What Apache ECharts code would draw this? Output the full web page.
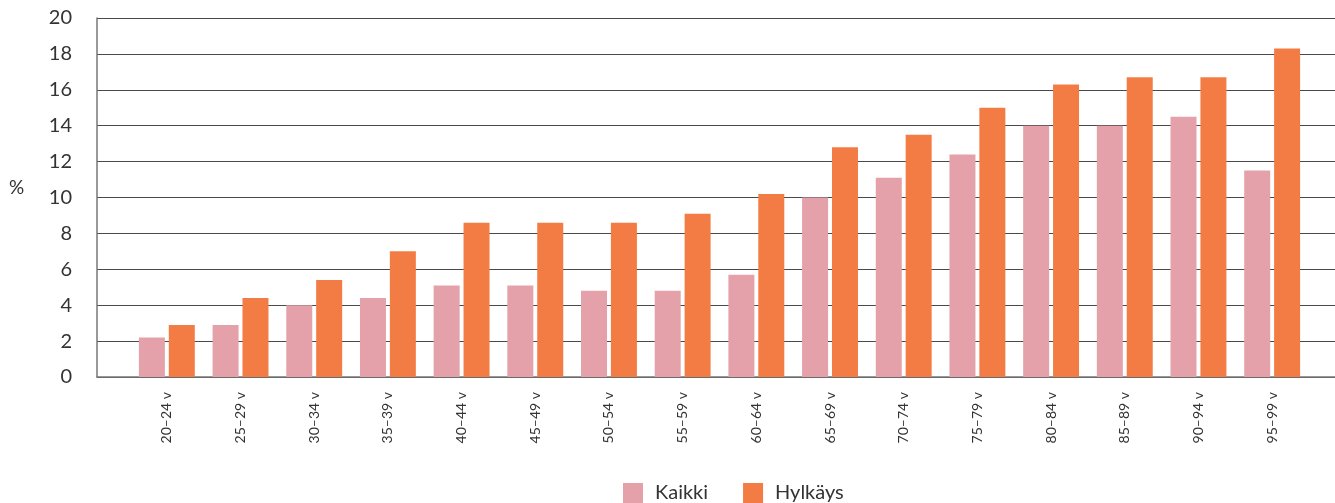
<!DOCTYPE html>
<html>
<head>
<meta charset="utf-8">
<script src="https://cdn.jsdelivr.net/npm/echarts@6/dist/echarts.min.js"></script>
<style>
html,body{margin:0;padding:0;background:#fff;}
#chart{width:1335px;height:503px;}
</style>
</head>
<body>
<div id="chart"></div>
<script>
const categories = ['20–24 v','25–29 v','30–34 v','35–39 v','40–44 v','45–49 v','50–54 v','55–59 v','60–64 v','65–69 v','70–74 v','75–79 v','80–84 v','85–89 v','90–94 v','95–99 v'];
const kaikki = [2.2, 2.9, 4.0, 4.4, 5.1, 5.1, 4.8, 4.8, 5.7, 10.0, 11.1, 12.4, 14.0, 14.0, 14.5, 11.5];
const hylkays = [2.9, 4.4, 5.4, 7.0, 8.6, 8.6, 8.6, 9.1, 10.2, 12.8, 13.5, 15.0, 16.3, 16.7, 16.7, 18.3];
const seriesNames = ['Kaikki', 'Hylkäys'];
const yTicks = { min: 0, max: 20, interval: 2 };
const yUnit = '%';

const FONT = 'Lato, "DejaVu Sans", sans-serif';
const chart = echarts.init(document.getElementById('chart'), null, { renderer: 'canvas' });
chart.setOption({
  animation: false,
  backgroundColor: '#ffffff',
  color: ['#e5a1a9', '#f37c44'],
  grid: [
    { left: 97, right: 0, top: 18, bottom: 126 },
    { left: 130, right: 26, top: 18, bottom: 126 }
  ],
  graphic: [
    {
      type: 'text', left: 9, top: 178,
      style: { text: yUnit, font: '19px ' + FONT, fill: '#333' }
    }
  ],
  legend: {
    data: seriesNames,
    left: 618,
    top: 478,
    itemWidth: 20,
    itemHeight: 20,
    itemGap: 35,
    icon: 'rect',
    textStyle: { fontFamily: FONT, fontSize: 20, color: '#333', padding: [0, 0, 0, 7] }
  },
  xAxis: [
    {
      type: 'value', gridIndex: 0, min: 0, max: 1,
      axisLine: { show: true, onZero: false, lineStyle: { color: '#777', width: 1.5 } },
      axisTick: { show: false }, axisLabel: { show: false }, splitLine: { show: false }
    },
    {
      type: 'category', gridIndex: 1, data: categories,
      axisLine: { show: false }, axisTick: { show: false },
      axisLabel: { rotate: 90, margin: 15, fontFamily: FONT, fontSize: 14, color: '#333', interval: 0 }
    }
  ],
  yAxis: [
    {
      type: 'value', gridIndex: 0, min: yTicks.min, max: yTicks.max, interval: yTicks.interval,
      axisLine: { show: true, lineStyle: { color: '#777', width: 1.5 } },
      axisTick: { show: false },
      axisLabel: { margin: 25, fontFamily: FONT, fontSize: 20, color: '#333' },
      splitLine: { show: true, lineStyle: { color: '#4a4a4a', width: 1.2 } }
    },
    {
      type: 'value', gridIndex: 1, min: yTicks.min, max: yTicks.max, interval: yTicks.interval,
      show: false, splitLine: { show: false }
    }
  ],
  series: [
    { name: seriesNames[0], type: 'bar', xAxisIndex: 1, yAxisIndex: 1, data: kaikki, barWidth: 26, barGap: '15%', z: 3 },
    { name: seriesNames[1], type: 'bar', xAxisIndex: 1, yAxisIndex: 1, data: hylkays, barWidth: 26, barGap: '15%', z: 3 }
  ]
});
</script>
</body>
</html>
